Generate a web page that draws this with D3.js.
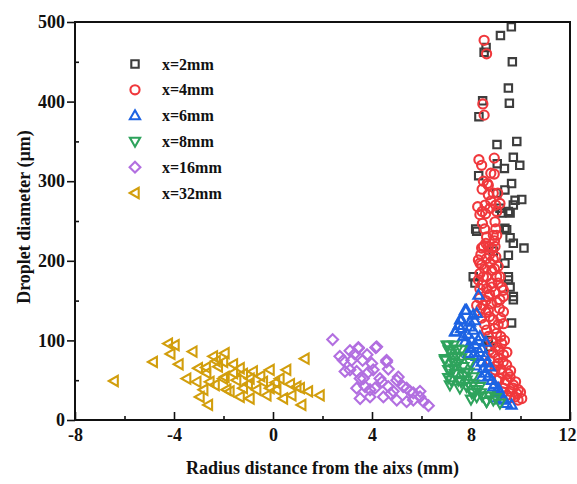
<!DOCTYPE html>
<html>
<head>
<meta charset="utf-8">
<script src="https://cdn.jsdelivr.net/npm/d3@7/dist/d3.min.js"></script>
<style>
  html, body { margin: 0; padding: 0; background: #ffffff; }
  svg { display: block; }
  text { font-family: "Liberation Serif", "Times New Roman", serif; font-weight: bold; fill: #111; }
</style>
</head>
<body>
<svg id="chart" width="577" height="484"></svg>
<script>
// Droplet size vs. radial position at several downstream stations (x, y in mm / µm)
const seriesNames = ["x=2mm", "x=4mm", "x=6mm", "x=8mm", "x=16mm", "x=32mm"];
const seriesColors = ["#3d3d3d", "#f0383c", "#1d63e3", "#2ea35c", "#b26fe0", "#d29e0c"];
const seriesShapes = ["square", "circle", "triUp", "triDown", "diamond", "triLeft"];

const xTicks = [-8, -4, 0, 4, 8, 12];
const xMinorTicks = [-6, -2, 2, 6, 10];
const yTicks = [0, 100, 200, 300, 400, 500];
const yMinorTicks = [50, 150, 250, 350, 450];

const x2mm = [
  [9.63,494],[9.19,483],[8.61,468],[8.53,462],[9.67,450],[9.51,417],[9.55,398],[8.47,401],
  [8.32,381],[9.85,350],[9.05,346],[9.71,330],[9.97,320],[9.35,316],[8.31,307],[9.06,322],
  [9.64,297],[9.37,289],[10.05,277],[9.78,276],[9.71,270],[9.51,262],[9.24,260],[9.58,260],
  [9.17,266],[8.19,240],[9.37,241],[9.44,239],[9.58,229],[9.71,222],[10.14,216],[9.51,207],
  [9.37,197],[8.09,180],[9.51,180],[9.58,167],[8.16,172],[9.71,155],[9.51,176],[9.71,151],
  [9.64,122],[8.23,237],[8.7,100],[8.77,92],[9.04,285],[8.9,212]
];
const x4mm = [
  [8.53,477],[8.63,460],[8.48,397],[8.53,383],
  [8.32,327],[8.43,320],[8.94,329],[8.94,309],[8.66,297],[8.7,283],[8.9,285],[9.08,285],
  [9.17,272],[8.27,268],[8.77,266],[9.04,262],[8.59,259],[8.36,258],[8.97,249],[8.46,247],
  [8.63,230],[8.9,232],[9.04,232],[8.43,216],[8.7,217],[8.97,218],[8.3,201],[8.63,203],
  [8.9,202],[8.43,195],[9.1,193],[8.84,188],[8.36,184],[8.63,180],[9.04,180],[8.3,176],
  [8.84,172],[9.24,167],[8.63,165],[8.97,161],[9.31,155],[8.7,155],
  [8.5,218],[8.84,216],[8.36,197],[8.77,197],[9.17,180],[8.5,180],[8.84,167],[9.31,163],
  [8.36,165],[9.17,151],[8.23,144],[8.7,138],[9.31,136],[8.43,128],[8.9,126],[9.31,121],
  [8.63,113],[9.04,109],[8.84,98],[9.24,96],[8.9,84],[9.31,82],[9.1,71],[9.44,69],
  [9.24,59],[9.58,54],[9.37,46],[9.71,44],[9.58,36],[9.91,38],[9.78,29],[10.05,27],
  [9.44,31],[9.04,50],[8.97,63],[8.77,75],[8.7,295],[9.0,240],[8.55,240],[8.5,144],
  [9.1,120],[8.6,150],[9.15,88],[9.6,62],[9.3,40],[9.85,33],[8.57,270],[9.0,205],
  [8.4,140],[8.75,130],[9.15,140],[8.55,120],[8.95,115],[9.2,105],[8.7,105],[9.0,92],
  [9.35,100],[8.75,88],[9.1,78],[9.45,85],[9.0,68],[9.3,73],[9.2,64],[9.5,58],
  [9.15,52],[9.45,50],[9.8,48],[9.3,35],[9.6,28],[9.9,25],[9.7,40],[10.0,35],
  [8.5,300],[8.8,310],[8.45,290],[8.8,275],[9.0,270],[8.45,262],[8.95,225],[8.6,222],
  [8.4,208],[8.75,208],[8.55,190],[8.95,190],[8.45,170],[9.1,172],[8.75,158],[9.05,148],
  [8.35,153],[8.8,146],[9.2,128],[8.6,135]
];
const x6mm = [
  [8.3,157],[7.76,138],[8.09,132],[7.56,126],[7.96,123],[7.35,111],[7.69,105],[8.09,113],
  [8.3,100],[7.96,92],[8.43,90],[8.57,80],[8.09,82],[8.43,73],[8.77,67],[8.57,59],
  [8.84,50],[8.9,42],[9.17,34],[9.31,25],[9.64,19],[9.44,21],[7.82,138],[7.62,126],
  [7.39,111],[8.23,134],[7.96,117],[8.03,100],[8.36,105],[7.89,84],[8.23,80],[8.43,54],
  [9.04,36],[9.31,27],[8.2,68],[8.6,98],[7.75,98],[8.95,28],
  [7.6,115],[7.85,108],[8.15,95],[8.0,90],[8.35,85],[8.5,65],[8.7,55],[8.95,45],
  [9.1,40],[8.65,72],[7.5,119],[8.15,125]
];
const x8mm = [
  [7.02,94],[7.29,94],[6.95,75],[7.15,63],[7.08,53],[7.42,80],[7.69,67],[7.49,50],
  [7.82,42],[7.76,59],[8.03,34],[8.23,29],[8.63,23],[8.9,25],[9.17,21],[7.62,88],
  [8.09,54],[8.36,42],[7.96,72],[7.08,94],[6.95,77],[7.08,63],[7.15,44],[7.82,50],
  [8.09,34],[8.63,23],[7.49,71],[7.2,84],[7.35,58],[7.55,40],[8.0,26],[8.45,30],
  [7.9,46],[7.3,72],[8.2,38],[7.45,89],
  [7.1,88],[7.25,78],[7.6,78],[7.7,55],[7.6,48],[8.1,45],[8.4,34],[8.75,30],
  [9.0,28],[7.3,65],[7.9,60],[7.2,50]
];
const x16mm = [
  [2.41,101],[3.11,87],[3.45,91],[4.15,91],[2.84,75],[3.62,75],[3.18,75],[3.99,71],
  [4.59,75],[2.91,61],[3.38,61],[4.05,63],[4.66,64],[3.65,52],[4.32,52],[5.06,54],
  [3.38,40],[3.72,42],[4.12,40],[4.66,42],[5.26,42],[3.52,27],[4.46,29],[5.0,25],
  [5.54,36],[5.94,36],[5.67,25],[6.08,23],[6.28,18],[5.4,23],[4.86,36],[3.92,29],
  [3.45,90],[4.19,92],[3.11,63],[3.52,52],[4.59,73],[5.0,50],[5.4,40],[5.67,34],
  [5.94,29],[3.92,38],[3.3,83],[3.85,60],[4.4,48],[4.75,33],[2.7,80],[3.8,82]
];
const x32mm = [
  [-6.42,49],[-4.84,73],[-4.23,96],[-3.96,94],[-4.13,83],[-3.8,70],[-3.24,86],[-3.49,52],
  [-3.08,48],[-2.95,29],[-2.61,19],[-3.02,65],[-2.41,80],[-1.94,84],[-2.68,59],[-2.21,67],
  [-2.01,52],[-2.34,44],[-1.87,38],[-1.6,59],[-2.55,48],[1.29,77],[-2.0,73],[-1.33,65],
  [-0.8,61],[-0.12,63],[0.55,63],[-1.94,54],[-1.47,50],[-0.93,52],[-0.39,48],[0.28,52],
  [-1.2,40],[-0.66,38],[-0.12,40],[0.96,42],[1.43,36],[1.9,31],[-1.33,29],[-0.93,27],
  [0.42,27],[1.16,19],[-0.25,31],[-1.74,36],[0.15,38],[0.76,31],[-2.3,74],[-2.7,66],
  [-1.6,70],[-1.0,45],[-0.5,55],[0.1,47],[0.7,45],[1.1,40],[-2.8,38],[-1.2,58]
];
const seriesData = [x2mm, x4mm, x6mm, x8mm, x16mm, x32mm];

const svg = d3.select("#chart");
const plot = { left: 75, right: 570, top: 22, bottom: 420 };

const x = d3.scaleLinear().domain([-8, 12]).range([plot.left, plot.right]);
const y = d3.scaleLinear().domain([0, 500]).range([plot.bottom, plot.top]);

// marker path generators, centred on 0,0
function markerPath(shape) {
  switch (shape) {
    case "square": return "M-3.7,-3.7H3.7V3.7H-3.7Z";
    case "circle": return d3.symbol(d3.symbolCircle, 66)();
    case "triUp": return "M0,-5.3L5.1,3.7L-5.1,3.7Z";
    case "triDown": return "M0,5.3L5.1,-3.7L-5.1,-3.7Z";
    case "triLeft": return "M-5.3,0L3.7,-5.1L3.7,5.1Z";
    case "diamond": return "M0,-5.4L5.4,0L0,5.4L-5.4,0Z";
  }
}

// data points, drawn in series order
seriesData.forEach((pts, i) => {
  svg.append("g")
    .selectAll("path")
    .data(pts)
    .join("path")
    .attr("d", markerPath(seriesShapes[i]))
    .attr("transform", d => `translate(${x(d[0])},${y(d[1])})`)
    .attr("fill", "none")
    .attr("stroke", seriesColors[i])
    .attr("stroke-width", 2.1);
});

// axes
const fmt = d => String(d);
svg.append("g")
  .attr("class", "x-major")
  .attr("transform", `translate(0,${plot.bottom})`)
  .call(d3.axisBottom(x).tickValues(xTicks).tickSizeInner(-8).tickSizeOuter(0).tickPadding(8).tickFormat(fmt));
svg.append("g")
  .attr("transform", `translate(0,${plot.bottom})`)
  .call(d3.axisBottom(x).tickValues(xMinorTicks).tickSizeInner(-4).tickSizeOuter(0).tickFormat(""));
svg.append("g")
  .attr("transform", `translate(${plot.left},0)`)
  .call(d3.axisLeft(y).tickValues(yTicks).tickSizeInner(8).tickSizeOuter(0).tickPadding(2).tickFormat(fmt));
svg.append("g")
  .attr("transform", `translate(${plot.left},0)`)
  .call(d3.axisLeft(y).tickValues(yMinorTicks).tickSizeInner(-4).tickSizeOuter(0).tickFormat(""));

svg.selectAll(".domain").remove();
svg.selectAll(".tick line").attr("stroke", "#111").attr("stroke-width", 1.6);
svg.selectAll(".tick text")
  .style("font-family", "'Liberation Serif', 'Times New Roman', serif")
  .style("font-weight", "bold")
  .style("font-size", "18px")
  .attr("fill", "#111");
// keep the last x label inside the page edge
svg.selectAll(".x-major .tick text").filter(d => d === 12).attr("dx", -3);

// frame
svg.append("rect")
  .attr("x", plot.left).attr("y", plot.top)
  .attr("width", plot.right - plot.left).attr("height", plot.bottom - plot.top)
  .attr("fill", "none").attr("stroke", "#111").attr("stroke-width", 2);

// axis titles
svg.append("text")
  .attr("x", (plot.left + plot.right) / 2).attr("y", 474)
  .attr("text-anchor", "middle")
  .style("font-size", "18px")
  .text("Radius distance from the aixs (mm)");
svg.append("text")
  .attr("transform", `translate(30,${(plot.top + plot.bottom) / 2 - 4}) rotate(-90)`)
  .attr("text-anchor", "middle")
  .style("font-size", "18px")
  .text("Droplet diameter (µm)");

// legend
const legend = svg.append("g");
seriesNames.forEach((name, i) => {
  const ly = 64 + i * 25.8;
  legend.append("path")
    .attr("d", markerPath(seriesShapes[i]))
    .attr("transform", `translate(135,${ly})`)
    .attr("fill", "none")
    .attr("stroke", seriesColors[i])
    .attr("stroke-width", 2.1);
  legend.append("text")
    .attr("x", 162).attr("y", ly + 5.5)
    .style("font-size", "16px")
    .text(name);
});
</script>
</body>
</html>
